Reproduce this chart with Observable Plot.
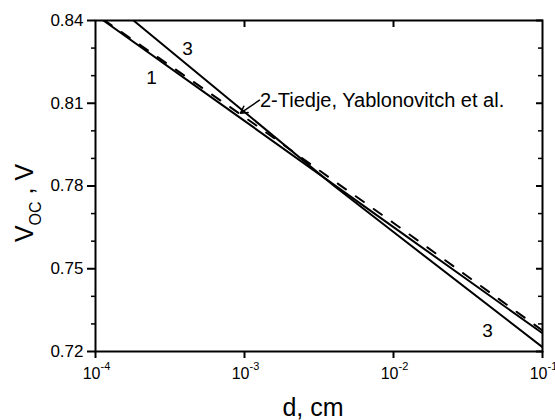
<!DOCTYPE html>
<html>
<head>
<meta charset="utf-8">
<script src="https://cdn.jsdelivr.net/npm/d3@7"></script>
<script src="https://cdn.jsdelivr.net/npm/@observablehq/plot@0.6"></script>
<style>
  html, body { margin: 0; padding: 0; background: white; }
  #chart { width: 555px; height: 420px; }
</style>
</head>
<body>
<div id="chart"></div>
<script>
// ---- data ----
const xMajor = [1e-4, 1e-3, 1e-2, 1e-1];
const xExps = ["-4", "-3", "-2", "-1"];
const xInnerTop = [1e-3, 1e-2];
const yMajor = [0.72, 0.75, 0.78, 0.81, 0.84];
const yMinor = [0.73, 0.74, 0.76, 0.77, 0.79, 0.80, 0.82, 0.83];

// curve 1 (solid)
const d1 = [1.13e-4, 1e-3, 1e-2, 1e-1];
const v1 = [0.8400, 0.8036, 0.7651, 0.7266];
// curve 2 (dashed, Tiedje, Yablonovitch et al.)
const d2 = [1.13e-4, 1e-3, 4e-3, 1e-2, 3e-2, 1e-1];
const v2 = [0.8403, 0.8050, 0.7818, 0.7666, 0.7480, 0.7276];
// curve 3 (solid, steeper)
const d3s = [1.8e-4, 1e-3, 4e-3, 1e-2, 1e-1];
const v3 = [0.8400, 0.8068, 0.7800, 0.7633, 0.7216];

// annotations
const labelText = ["1", "3", "3"];
const labelD = [2.38e-4, 4.14e-4, 4.28e-2];
const labelV = [0.8191, 0.8297, 0.7276];
const noteText = "2-Tiedje, Yablonovitch et al.";
const noteD = 1.27e-3, noteV = 0.8108;
const arrowFrom = [1.26e-3, 0.8111];
const arrowTo = [9.4e-4, 0.8064];

const series = (ds, vs) => ds.map((d, i) => ({d, v: vs[i]}));
const s1 = series(d1, v1), s2 = series(d2, v2), s3 = series(d3s, v3);
const labels = labelText.map((t, i) => ({t, d: labelD[i], v: labelV[i]}));

const font = "'Liberation Sans', Arial, Helvetica, sans-serif";

const plot = Plot.plot({
  width: 555,
  height: 420,
  marginLeft: 95,
  marginRight: 13,
  marginTop: 20,
  marginBottom: 69,
  style: {fontFamily: font, fontSize: "17px", color: "black", background: "white", overflow: "visible"},
  x: {type: "log", domain: [1e-4, 1e-1]},
  y: {domain: [0.72, 0.84]},
  marks: [
    // left axis: major outward with labels, minor outward
    Plot.axisY({anchor: "left", ticks: yMajor, tickSize: 8, tickPadding: 4, tickFormat: d3.format(".2f"), strokeWidth: 2, fontSize: 17, label: null}),
    Plot.axisY({anchor: "left", ticks: yMinor, tickSize: 4, text: null, strokeWidth: 1.5, label: null}),
    // right axis: inward ticks
    Plot.axisY({anchor: "right", ticks: yMajor, tickSize: -7, text: null, strokeWidth: 2, label: null}),
    Plot.axisY({anchor: "right", ticks: yMinor, tickSize: -5, text: null, strokeWidth: 1.5, label: null}),
    // bottom axis: outward ticks
    Plot.axisX({anchor: "bottom", ticks: xMajor, tickSize: 7, text: null, strokeWidth: 2, label: null}),
    // top axis: inward ticks
    Plot.axisX({anchor: "top", ticks: xInnerTop, tickSize: -6, text: null, strokeWidth: 2, label: null}),
    // x tick labels 10^n
    Plot.text(xMajor, {x: d => d, frameAnchor: "bottom", text: () => "10", textAnchor: "end", lineAnchor: "top", dx: 5, dy: 16, fontSize: 16}),
    Plot.text(xMajor, {x: d => d, frameAnchor: "bottom", text: (d, i) => xExps[i], textAnchor: "start", lineAnchor: "top", dx: 5, dy: 11, fontSize: 11}),
    // x title
    Plot.text(["d, cm"], {frameAnchor: "bottom", text: d => d, lineAnchor: "bottom", dy: 64, dx: -6, fontSize: 25}),
    // curves
    Plot.line(s1, {x: "d", y: "v", stroke: "black", strokeWidth: 2, clip: true}),
    Plot.line(s2, {x: "d", y: "v", stroke: "black", strokeWidth: 2, strokeDasharray: "10,12", clip: true}),
    Plot.line(s3, {x: "d", y: "v", stroke: "black", strokeWidth: 2, clip: true}),
    // labels
    Plot.text(labels, {x: "d", y: "v", text: "t", fontSize: 19}),
    Plot.text([noteText], {x: () => noteD, y: () => noteV, text: d => d, textAnchor: "start", fontSize: 20}),
    Plot.arrow([0], {x1: () => arrowFrom[0], y1: () => arrowFrom[1], x2: () => arrowTo[0], y2: () => arrowTo[1], stroke: "black", strokeWidth: 1.5, headLength: 9}),
    Plot.frame({stroke: "black", strokeWidth: 2})
  ]
});

// y-axis title with subscript
const svg = d3.select(plot);
const t = svg.append("text")
  .attr("transform", "translate(33,203) rotate(-90)")
  .attr("text-anchor", "middle")
  .attr("font-family", font)
  .attr("font-size", 25)
  .attr("fill", "black");
t.append("tspan").text("V");
t.append("tspan").attr("font-size", 16).attr("dy", 8).text("OC");
t.append("tspan").attr("dy", -8).text(" , V");

document.getElementById("chart").appendChild(plot);
</script>
</body>
</html>
